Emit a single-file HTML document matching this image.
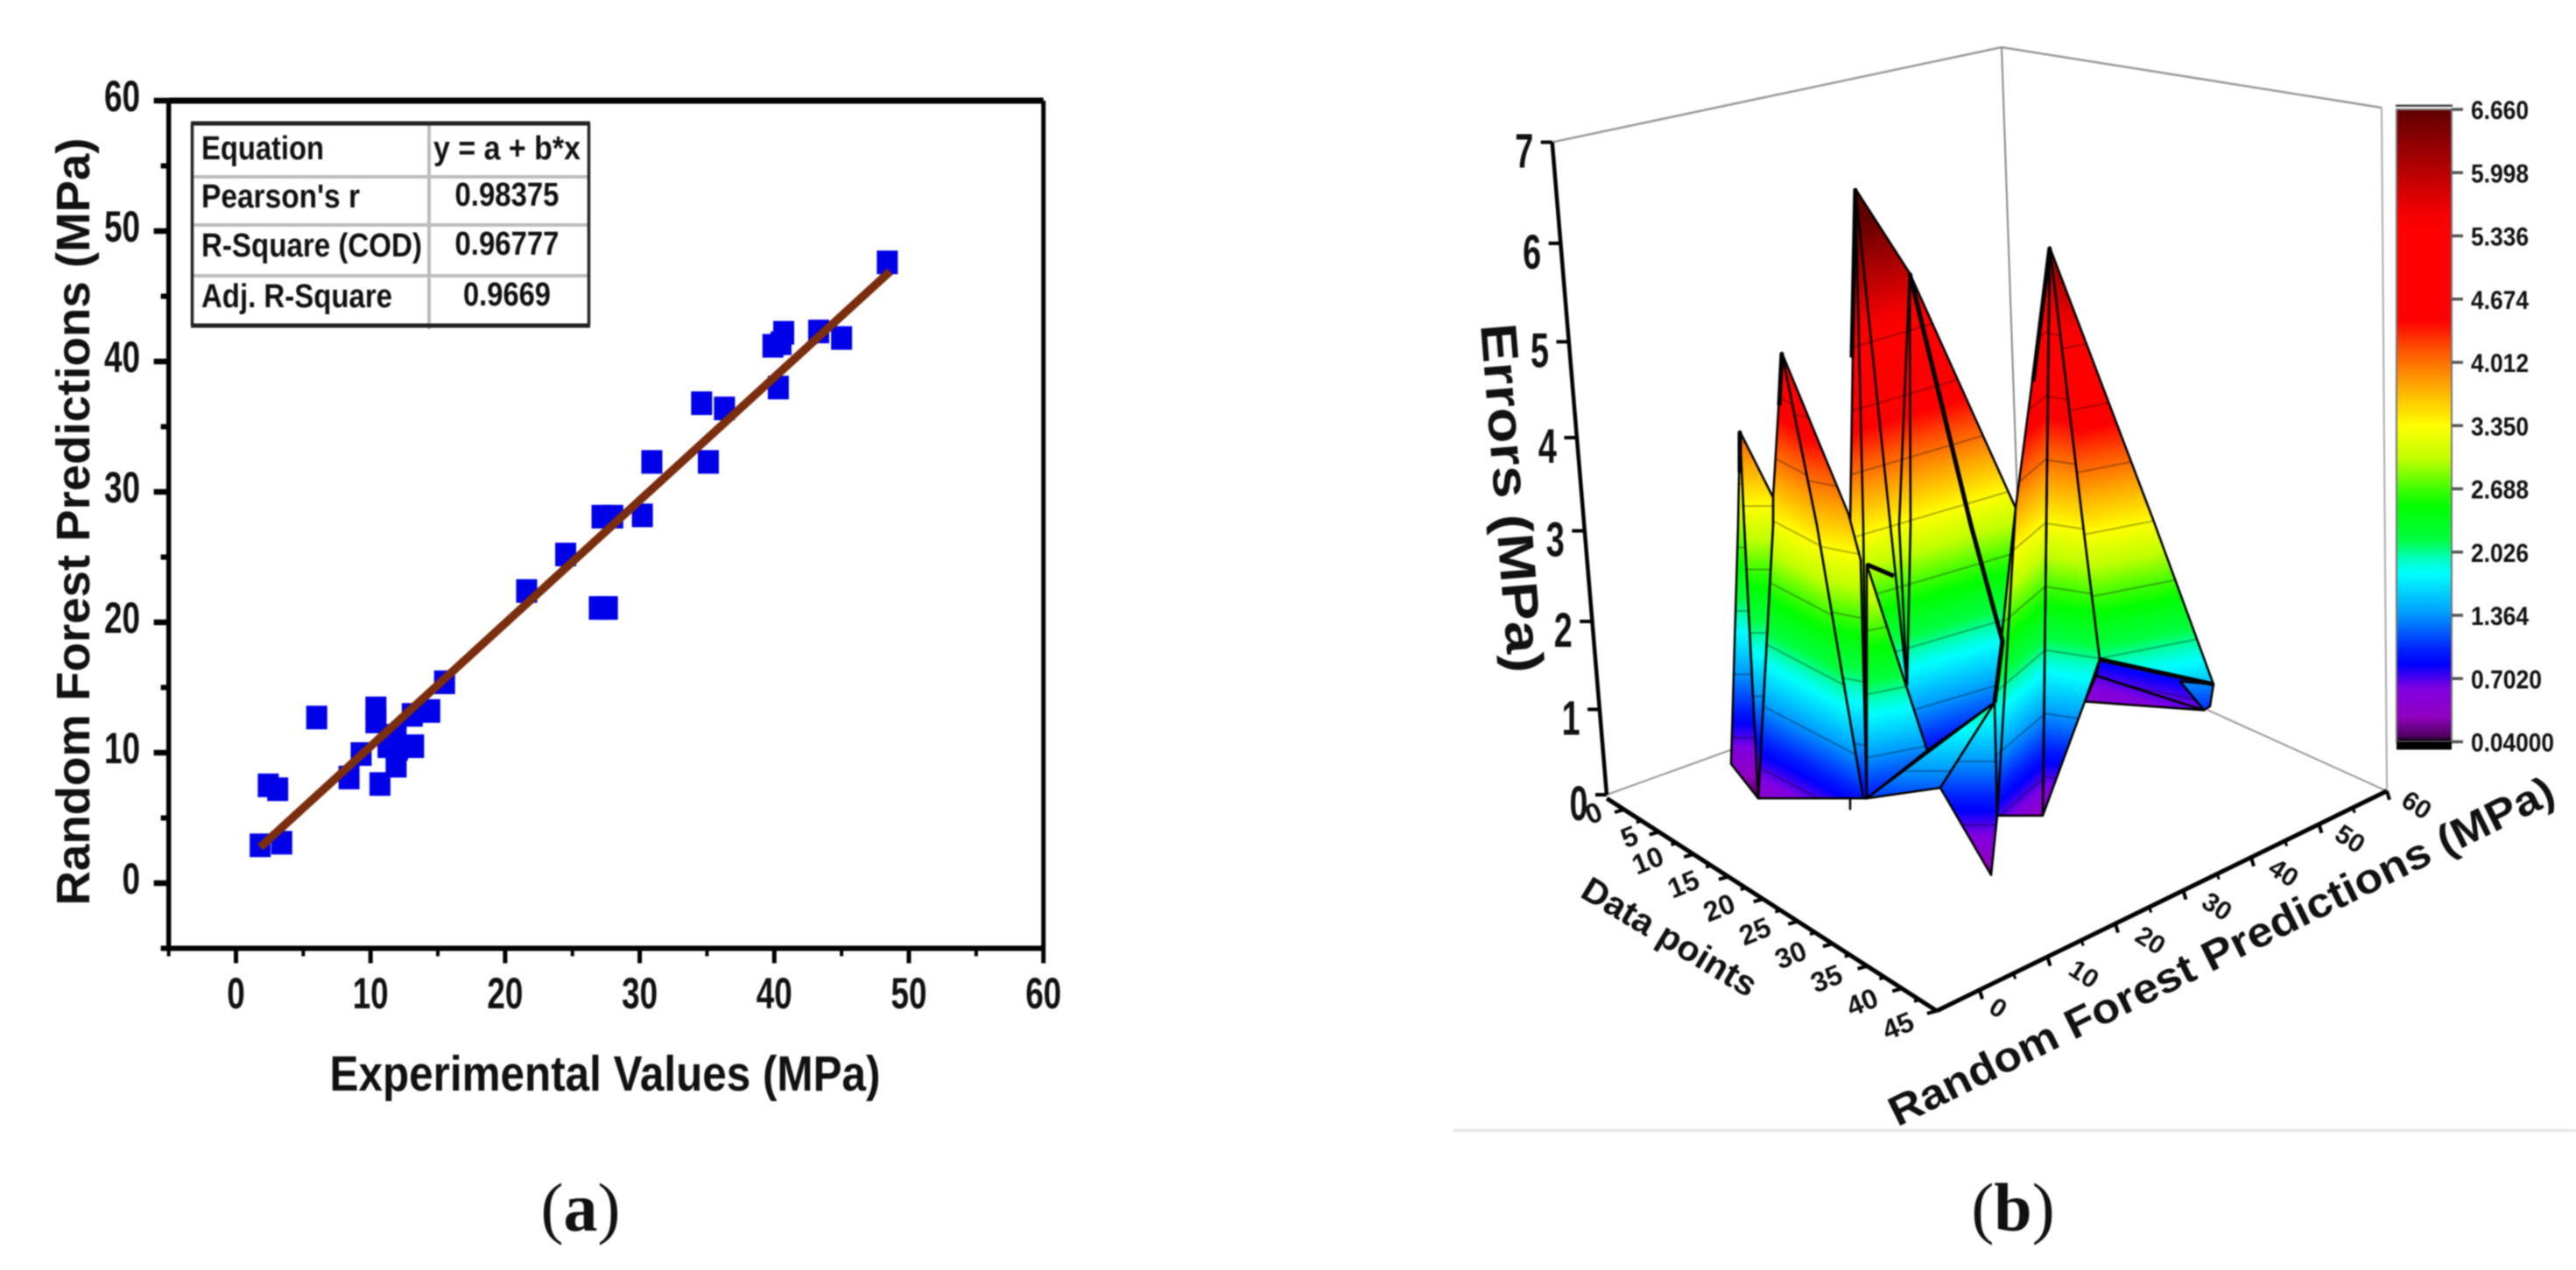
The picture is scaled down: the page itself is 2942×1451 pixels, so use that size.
<!DOCTYPE html>
<html lang="en">
<head>
<meta charset="utf-8">
<title>Random forest predictions and errors</title>
<style>
html,body{margin:0;padding:0;background:#fff;}
#figure{display:block;width:2942px;height:1451px;filter:blur(0.8px);}
text{font-family:"Liberation Sans",sans-serif;font-weight:700;fill:#111;}
.serif{font-family:"Liberation Serif",serif;font-weight:400;}
</style>
</head>
<body>
<svg id="figure" xmlns="http://www.w3.org/2000/svg" width="2942" height="1451" viewBox="0 0 2942 1451">
  <rect width="2942" height="1451" fill="#fff"/>
  <defs id="defs"></defs>

  <g id="panel-a">
    <g id="a-plot"></g>
    <g id="a-axes"></g>
    <text transform="translate(102,596) rotate(-90)" text-anchor="middle" font-size="54" textLength="877" lengthAdjust="spacingAndGlyphs">Random Forest Predictions (MPa)</text>
    <text x="691" y="1246" text-anchor="middle" font-size="57" textLength="629" lengthAdjust="spacingAndGlyphs">Experimental Values (MPa)</text>

    <g>
      <rect x="219" y="140" width="454" height="233" fill="#fff"/>
      <g stroke="#bdbdbd" stroke-width="4">
        <line x1="219" x2="673" y1="202" y2="202"/>
        <line x1="219" x2="673" y1="257" y2="257"/>
        <line x1="219" x2="673" y1="315" y2="315"/>
        <line x1="490" x2="490" y1="140" y2="376"/>
      </g>
      <g stroke="#222" fill="none">
        <line x1="218" x2="674" y1="141" y2="141" stroke-width="5"/>
        <line x1="218" x2="674" y1="372" y2="372" stroke-width="5"/>
        <line x1="219.5" x2="219.5" y1="141" y2="372" stroke-width="3.5"/>
        <line x1="672.5" x2="672.5" y1="141" y2="372" stroke-width="3.5"/>
      </g>
      <g font-size="38">
        <text x="230" y="182" textLength="140" lengthAdjust="spacingAndGlyphs">Equation</text>
        <text x="230" y="237" textLength="181" lengthAdjust="spacingAndGlyphs">Pearson's r</text>
        <text x="230" y="293" textLength="252" lengthAdjust="spacingAndGlyphs">R-Square (COD)</text>
        <text x="230" y="351" textLength="218" lengthAdjust="spacingAndGlyphs">Adj. R-Square</text>
        <text x="579" y="182" text-anchor="middle" textLength="168" lengthAdjust="spacingAndGlyphs">y = a + b*x</text>
        <text x="579" y="235" text-anchor="middle" textLength="119" lengthAdjust="spacingAndGlyphs">0.98375</text>
        <text x="579" y="291" text-anchor="middle" textLength="119" lengthAdjust="spacingAndGlyphs">0.96777</text>
        <text x="579" y="349" text-anchor="middle" textLength="100" lengthAdjust="spacingAndGlyphs">0.9669</text>
      </g>
    </g>
    <text class="serif" x="663" y="1406" text-anchor="middle" font-size="78">(<tspan font-weight="700">a</tspan>)</text>
  </g>

  <g id="panel-b">
    <g id="b-walls"></g>
    <g id="b-surface"></g>
    <g id="b-axes"></g>
    <g id="b-colorbar"></g>
    <text transform="translate(1691,371) rotate(85.4)" font-size="58" textLength="400" lengthAdjust="spacingAndGlyphs">Errors (MPa)</text>
    <text transform="translate(1907,1070) rotate(31)" y="14" text-anchor="middle" font-size="40" textLength="226" lengthAdjust="spacingAndGlyphs">Data points</text>
    <text transform="translate(2537,1087) rotate(-26.3)" y="16" text-anchor="middle" font-size="48" textLength="841" lengthAdjust="spacingAndGlyphs">Random Forest Predictions (MPa)</text>
    <rect x="1660" y="1290" width="1282" height="3" fill="#e6e6e6"/>
    <text class="serif" x="2299" y="1406" text-anchor="middle" font-size="78">(<tspan font-weight="700">b</tspan>)</text>
  </g>
</svg>

<script>
// ---------- Scatter chart data ----------
const scatterX = [48.4,40.7,39.9,40.5,43.3,45.0,40.3,34.6,36.3,35.1,30.9,30.2,27.2,28.0,24.5,21.6,27.0,27.6,15.5,14.4,13.1,10.4,10.4,6.0,9.3,8.4,10.7,11.9,13.2,11.3,12.0,11.9,2.4,3.1,1.8,3.4];
const scatterY = [47.6,42.2,41.2,41.4,42.3,41.8,38.0,36.8,36.4,32.3,32.3,28.2,28.1,28.1,25.2,22.4,21.1,21.1,15.4,13.2,12.9,13.4,12.4,12.7,9.9,8.1,7.6,9.0,10.5,10.5,10.3,11.3,7.5,7.2,2.9,3.1];
const fitX = [1.8,48.6];
const fitY = [2.75,46.9];
const scatterXTicks = [0,10,20,30,40,50,60];
const scatterXMinorTicks = [-5,5,15,25,35,45,55];
const scatterYTicks = [0,10,20,30,40,50,60];
const scatterYMinorTicks = [-5,5,15,25,35,45,55];

// ---------- Surface chart data ----------
const zTicks = [0,1,2,3,4,5,6,7];
const dataAxisTicks = [0,5,10,15,20,25,30,35,40,45];
const dataAxisMinorTicks = [2.5,7.5,12.5,17.5,22.5,27.5,32.5,37.5,42.5];
const predictionMajorTicks = [0,10,20,30,40,50,60];
const predictionMinorTicks = [5,15,25,35,45,55];
const colorbarValues = [6.66,5.998,5.336,4.674,4.012,3.35,2.688,2.026,1.364,0.702,0.04];
const colorbarLabels = ["6.660","5.998","5.336","4.674","4.012","3.350","2.688","2.026","1.364","0.7020","0.04000"];
const contourLevels = [5.336,4.674,4.012,3.35,2.688,2.026,1.364,0.702];
const colormapValues = [6.66,6.0,5.6,5.4,4.45,4.15,3.8,3.35,3.0,2.69,2.5,2.15,1.95,1.8,1.4,1.0,0.85,0.6,0.3,0.1,0.04];
const colormapColors = ["#600000","#b80000","#f00000","#ff0000","#ff0000","#ff5000","#ffa000","#ffff00","#c0ff00","#40ff00","#00ff00","#00ff40","#00ffc0","#00ffff","#00a0ff","#0020ff","#0000ff","#8000e0","#9000c0","#500060","#000000"];

// each surface facet: position along the surface (u) and error height (MPa), back to front
const facetU = [
 [28.4,34.6,46.7,45.5,44.3,36.6,29.7,29.0,27.8],
 [20.0,27.6,29.0,29.7,29.3,24.0],
 [29.7,36.6,29.7],
 [20.0,19.0,19.0,17.3,29.3,24.0],
 [15.2,19.0,19.0,17.3,15.7],
 [15.2,15.7,17.3,14.2,15.0],
 [29.7,44.3,38.1],
 [44.3,44.6,43.9,38.1],
 [50.6,62.4,69.3,56.3,54.4],
 [56.3,69.3,68.2,55.9],
 [55.9,68.2,54.6],
 [65.5,69.3,68.9,68.2],
 [50.6,54.4,56.3,54.6,49.8],
 [50.6,49.8,44.6,44.3,46.7]
];
const facetErr = [
 [6.66,5.78,3.33,1.87,1.30,0.80,0.30,2.79,3.15],
 [4.95,3.27,2.79,0.30,0.30,3.15],
 [2.74,0.80,0.30],
 [4.95,3.44,3.15,0.30,0.30,3.15],
 [4.13,3.44,3.15,0.30,3.15],
 [4.13,3.15,0.30,0.66,3.15],
 [0.30,1.30,0.41],
 [1.30,0.12,-0.50,0.41],
 [6.05,3.21,1.49,1.75,3.15],
 [1.75,1.49,1.22,1.58],
 [1.58,1.22,1.31],
 [1.52,1.49,1.26,1.22],
 [6.05,3.15,1.75,1.31,0.12],
 [6.05,0.12,0.12,1.30,3.33]
];
// contour behaviour of each facet: error offset, tilt (error per u), and the u at which the offset applies
const facetOffset = [0.14,0.46,0.64,0.155,0,-0.23,0.78,0.68,0.28,-0.85,-0.87,-0.18,0.18,0.2];
const facetTilt = [-0.027,0.018,-0.018,0.048,0,0,0,0,-0.018,0.02,0.027,0,0.014,-0.078];
const facetTiltOrigin = [35.1,26.5,29.7,19,0,0,0,0,55.5,56,56,0,50.2,49.8];

const ridgeU = [
 [28.4,29.3,29.7],
 [28.4,32.4,34.3],
 [34.6,33.4,34.3],
 [34.6,34.7,34.3],
 [50.6,50.2,49.8],
 [46.7,44.6],
 [27.8,27.8]
];
const ridgeErr = [
 [6.66,3.15,0.30],
 [6.66,3.15,1.48],
 [5.78,3.15,1.48],
 [5.78,3.15,1.48],
 [6.05,3.15,0.12],
 [3.33,0.12],
 [0.30,0.18]
];
const heavyRidgeU = [
 [34.6,41.6,45.2,44.3],
 [29.7,32.8],
 [56.3,69.3],
 [28.4,28.0],
 [50.6,48.7],
 [20.0,19.7],
 [15.2,15.2]
];
const heavyRidgeErr = [
 [5.78,3.15,1.94,1.30],
 [2.74,2.62],
 [1.75,1.49],
 [6.66,4.9],
 [6.05,4.65],
 [4.95,4.4],
 [4.13,3.7]
];

// ---------- Helpers ----------
const NS = 'http://www.w3.org/2000/svg';
function make(tag, attrs, parent) {
  const n = document.createElementNS(NS, tag);
  for (const k in attrs) n.setAttribute(k, attrs[k]);
  parent.appendChild(n);
  return n;
}
const byId = id => document.getElementById(id);

// ---------- Scatter axes functions ----------
const xScale = v => 269.5 + 15.37 * v;
const yScale = v => 1009 - 14.9 * v;

const aPlot = byId('a-plot');
const aAxes = byId('a-axes');

const frameLines = [
  [xScale(-5), yScale(60), xScale(60), yScale(60), 7],
  [xScale(-5), yScale(-5), xScale(60), yScale(-5), 6],
  [xScale(-5), yScale(60), xScale(-5), yScale(-5), 5.5],
  [xScale(60), yScale(60), xScale(60), yScale(-5), 5]
];
frameLines.forEach(f => {
  const line = make('line', {x1:f[0], y1:f[1], x2:f[2], y2:f[3], stroke:'#000', 'stroke-width':f[4]}, aAxes);
  
  
});

scatterYTicks.forEach(v => {
  const t = make('line', {x1:xScale(-5)-17, x2:xScale(-5), y1:yScale(v), y2:yScale(v), stroke:'#000', 'stroke-width':6.5}, aAxes);
  
  
  const s = String(v);
  const label = make('text', {x:160, y:yScale(v)+12, 'text-anchor':'end', 'font-size':50, textLength:s.length*20.5, lengthAdjust:'spacingAndGlyphs'}, aAxes);
  label.textContent = s;
  
  
});
scatterYMinorTicks.forEach(v => {
  const t = make('line', {x1:xScale(-5)-9, x2:xScale(-5), y1:yScale(v), y2:yScale(v), stroke:'#000', 'stroke-width':6}, aAxes);
  
  
});
scatterXTicks.forEach(v => {
  const t = make('line', {x1:xScale(v), x2:xScale(v), y1:yScale(-5), y2:yScale(-5)+17, stroke:'#000', 'stroke-width':5}, aAxes);
  
  
  const s = String(v);
  const label = make('text', {x:xScale(v), y:1152, 'text-anchor':'middle', 'font-size':50, textLength:s.length*20.5, lengthAdjust:'spacingAndGlyphs'}, aAxes);
  label.textContent = s;
  
  
});
scatterXMinorTicks.forEach(v => {
  const t = make('line', {x1:xScale(v), x2:xScale(v), y1:yScale(-5), y2:yScale(-5)+9, stroke:'#000', 'stroke-width':4}, aAxes);
  
  
});

scatterX.forEach((v, i) => {
  const p = make('rect', {x:xScale(v)-12, y:yScale(scatterY[i])-13.5, width:24, height:27, fill:'#0000e8'}, aPlot);
  
  
});
const fitLine = make('line', {x1:xScale(fitX[0]), y1:yScale(fitY[0]), x2:xScale(fitX[1]), y2:yScale(fitY[1]), stroke:'#7a2e0e', 'stroke-width':9.5}, aPlot);



// ---------- Surface axis functions ----------
const zX = v => 1835 - 8.9 * v;
const zY = v => 908 - 96 * v - 1.5 * v * v;
const dataX = v => 1855 + 7.93 * v;
const dataY = v => 925 + 5.11 * v;
const dataLabelX = v => 1800 + 8.17 * v + (v < 10 ? 20 : 0);
const dataLabelY = v => 929 + 5.4 * v;
const predX = v => 2261 + 7.75 * v;
const predY = v => 1131.5 - 3.795 * v;
const predLabelX = v => 2304 + 7.6 * v - (v < 10 ? 22 : 0);
const predLabelY = v => 1151.6 - 3.86 * v;
const surfX = u => 1835 + 10 * u;
const surfY = e => 945 - 109.5 * e;
const cbY = v => 125 + (6.66 - v) * 109.14;

const walls = byId('b-walls');
const wallPaths = [
  [zX(7), zY(7), 2286, 54, 2.5, '#999'],
  [2286, 54, 2720, 123, 2.5, '#999'],
  [2286, 54, 2305, 598, 2, '#888'],
  [2720, 123, predX(60), predY(60), 2, '#aaa'],
  [zX(0), zY(0), 1979, 856, 2, '#999'],
  [2521, 811, predX(60), predY(60), 2, '#999']
];
wallPaths.forEach(w => {
  const l = make('line', {x1:w[0], y1:w[1], x2:w[2], y2:w[3], 'stroke-width':w[4], stroke:w[5]}, walls);
  
  
});

// ---------- Surface facets ----------
const defs = byId('defs');
const surface = byId('b-surface');
const cmTop = colormapValues[0];
const cmBottom = colormapValues[colormapValues.length - 1];

facetU.forEach((us, i) => {
  const shift = facetOffset[i] * 109.5;
  const slope = facetTilt[i] * 109.5 / 10;
  const refX = surfX(facetTiltOrigin[i]);
  const norm = Math.sqrt(1 + slope * slope);
  const span = (surfY(cmBottom) - surfY(cmTop)) / norm;
  const ax = refX, ay = surfY(cmTop) + shift;
  const grad = make('linearGradient', {
    id: 'facet-grad-' + i, gradientUnits: 'userSpaceOnUse',
    x1: ax, y1: ay, x2: ax - slope / norm * span, y2: ay + span / norm
  }, defs);
  colormapValues.forEach((v, k) => {
    make('stop', {offset: (cmTop - v) / (cmTop - cmBottom), 'stop-color': colormapColors[k]}, grad);
  });
  const pts = us.map((u, k) => surfX(u) + ',' + surfY(facetErr[i][k])).join(' ');
  const clip = make('clipPath', {id: 'facet-clip-' + i}, defs);
  make('polygon', {points: pts}, clip);
  const group = make('g', {}, surface);
  
  
  const facet = make('polygon', {points: pts, fill: 'url(#facet-grad-' + i + ')'}, group);
  
  
  contourLevels.forEach(level => {
    const y0 = surfY(level) + shift;
    const c = make('line', {
      x1: 1900, x2: 2600,
      y1: y0 + slope * (1900 - refX), y2: y0 + slope * (2600 - refX),
      stroke: 'rgba(0,0,0,0.3)', 'stroke-width': 2, 'clip-path': 'url(#facet-clip-' + i + ')'
    }, group);
    
    
  });
  const edge = make('polygon', {points: pts, fill: 'none', stroke: '#000', 'stroke-width': 2.5, 'stroke-linejoin': 'round'}, group);
  
  
});

ridgeU.forEach((us, i) => {
  const r = make('polyline', {points: us.map((u, k) => surfX(u) + ',' + surfY(ridgeErr[i][k])).join(' '), fill: 'none', stroke: '#000', 'stroke-width': 2.5}, surface);
  
  
});
heavyRidgeU.forEach((us, i) => {
  const r = make('polyline', {points: us.map((u, k) => surfX(u) + ',' + surfY(heavyRidgeErr[i][k])).join(' '), fill: 'none', stroke: '#000', 'stroke-width': 5}, surface);
  
  
});

// ---------- Surface axes ----------
const bAxes = byId('b-axes');
const axisLines = [
  [zX(7), zY(7), zX(0), zY(0), 4.5, 'z-axis-line'],
  [dataX(-2.5), dataY(-2.5), dataX(45), dataY(45), 5, 'data-axis-line'],
  [dataX(45), dataY(45), predX(60), predY(60), 5, 'prediction-axis-line']
];
axisLines.forEach(a => {
  const l = make('line', {x1:a[0], y1:a[1], x2:a[2], y2:a[3], stroke:'#000', 'stroke-width':a[4]}, bAxes);
  
  
});

zTicks.forEach(v => {
  const t = make('line', {x1:zX(v)-13, x2:zX(v), y1:zY(v), y2:zY(v), stroke:'#000', 'stroke-width':4}, bAxes);
  
  
  const label = make('text', {x:zX(v)-32, y:zY(v)+29, 'text-anchor':'middle', 'font-size':56, textLength:21, lengthAdjust:'spacingAndGlyphs'}, bAxes);
  label.textContent = String(v);
  
  
});

dataAxisTicks.forEach(v => {
  const t = make('line', {x1:dataX(v), y1:dataY(v), x2:dataX(v)-11, y2:dataY(v)+3, stroke:'#000', 'stroke-width':4}, bAxes);
  
  
  const label = make('text', {transform:'translate(' + dataLabelX(v) + ',' + dataLabelY(v) + ') rotate(-22)', y:11, 'text-anchor':'middle', 'font-size':32}, bAxes);
  label.textContent = String(v);
  
  
});
dataAxisMinorTicks.forEach(v => {
  const t = make('line', {x1:dataX(v), y1:dataY(v), x2:dataX(v)-6, y2:dataY(v)+2, stroke:'#000', 'stroke-width':3.5}, bAxes);
  
  
});

predictionMajorTicks.forEach(v => {
  const t = make('line', {x1:predX(v), y1:predY(v), x2:predX(v)+3, y2:predY(v)+10, stroke:'#000', 'stroke-width':4}, bAxes);
  
  
  const label = make('text', {transform:'translate(' + predLabelX(v) + ',' + predLabelY(v) + ') rotate(33)', y:10, 'text-anchor':'middle', 'font-size':30}, bAxes);
  label.textContent = String(v);
  
  
});
predictionMinorTicks.forEach(v => {
  const t = make('line', {x1:predX(v), y1:predY(v), x2:predX(v)+2, y2:predY(v)+6, stroke:'#000', 'stroke-width':3}, bAxes);
  
  
});

// ---------- Colorbar ----------
const cb = byId('b-colorbar');
const cbGrad = make('linearGradient', {id:'colorbar-grad', gradientUnits:'userSpaceOnUse', x1:0, x2:0, y1:cbY(cmTop), y2:cbY(cmBottom)}, defs);
colormapValues.forEach((v, k) => {
  make('stop', {offset:(cmTop - v) / (cmTop - cmBottom), 'stop-color':colormapColors[k]}, cbGrad);
});
const cbBar = make('rect', {x:2737, width:63, y:cbY(cmTop), height:cbY(cmBottom)-cbY(cmTop), fill:'url(#colorbar-grad)', stroke:'#777', 'stroke-width':2}, cb);


const cbTop = make('rect', {x:2736, width:65, y:119.5, height:2.5, fill:'#444'}, cb);


const cbBottom = make('rect', {x:2737, width:63, y:cbY(cmBottom), height:9, fill:'#000'}, cb);


colorbarValues.forEach((v, i) => {
  const t = make('line', {x1:2800, x2:2813, y1:cbY(v), y2:cbY(v), stroke:'#555', 'stroke-width':3.5}, cb);
  
  
  const s = colorbarLabels[i];
  const widths = {5:66, 6:81, 7:95};
  const label = make('text', {x:2822, y:cbY(v)+11, 'font-size':30, textLength:widths[s.length], lengthAdjust:'spacingAndGlyphs'}, cb);
  label.textContent = s;
  
  
});
</script>
</body>
</html>
